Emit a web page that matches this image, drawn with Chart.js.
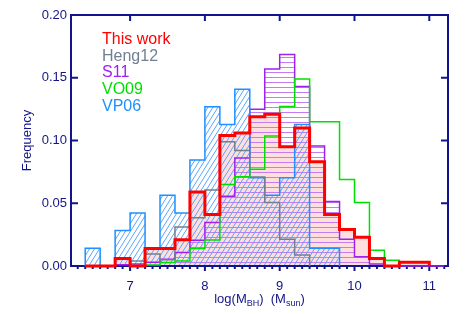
<!DOCTYPE html>
<html>
<head>
<meta charset="utf-8">
<script src="https://cdn.jsdelivr.net/npm/chart.js@4.4.1/dist/chart.umd.min.js"></script>
<style>
  html, body { margin: 0; padding: 0; background: #fff; }
</style>
</head>
<body>
<canvas id="histChart" width="472" height="314"></canvas>
<script>
// =====================
// DATA
// =====================
// bin edges of log(M_BH), 0.2 dex bins
const binEdges = [6.4, 6.6, 6.8, 7.0, 7.2, 7.4, 7.6, 7.8, 8.0, 8.2, 8.4, 8.6, 8.8, 9.0, 9.2, 9.4, 9.6, 9.8, 10.0, 10.2, 10.4, 10.6, 10.8, 11.0, 11.2];

// frequency per bin (null = no bar there)
const thisWork = [0, 0, 0.006, 0, 0.014, 0.014, 0.021, 0.059, 0.041, 0.104, 0.106, 0.119, 0.121, 0.095, 0.110, 0.083, 0.041, 0.029, 0.023, 0.006, 0, 0.003, 0.003, null];
const heng12 = [null, null, null, 0.004, 0.0095, 0.005, 0.031, 0.0385, 0.0606, 0.099, 0.092, 0.071, 0.0505, 0.0214, 0.0088, null, null, null, null, null, null, null, null, null];
const s11 = [null, null, 0.001, 0.0015, 0.003, 0.0053, 0.0107, 0.0205, 0.0347, 0.0555, 0.086, 0.125, 0.157, 0.1685, 0.143, 0.0956, 0.0513, 0.0213, 0.0074, 0.0016, 0, 0, 0, 0];
const vo09 = [null, null, null, null, 0.0008, 0.0027, 0.004, 0.014, 0.0207, 0.065, 0.0712, 0.077, 0.1036, 0.127, 0.149, 0.115, 0.115, 0.069, 0.0505, 0.0125, 0.0045, null, null, null];
const vp06 = [0.0141, 0, 0.0282, 0.0423, 0.0141, 0.0563, 0.0423, 0.0845, 0.1268, 0.1127, 0.1408, 0.0704, 0.0563, 0.0704, 0.1127, 0.0141, 0.0141, null, null, null, null, null, null, null];

const seriesNames = ["This work", "Heng12", "S11", "VO09", "VP06"];

const xTickValues = [7, 8, 9, 10, 11];
const xTickLabels = ["7", "8", "9", "10", "11"];
const yTickValues = [0, 0.05, 0.10, 0.15, 0.20];
const yTickLabels = ["0.00", "0.05", "0.10", "0.15", "0.20"];

// =====================
// STYLE
// =====================
const NAVY = "#14148a";
const FONT = "'Liberation Sans', Arial, Helvetica, sans-serif";
const colors = {
  red: "#ff0000",
  gray: "#708090",
  purple: "#a020f0",
  green: "#00e000",
  blue: "#1e90ff"
};
const legendColors = [colors.red, colors.gray, colors.purple, colors.green, colors.blue];

// turn per-bin values into step points
function histPoints(values) {
  let first = values.findIndex(v => v !== null);
  let last = values.length - 1;
  while (values[last] === null) last--;
  const pts = [{ x: binEdges[first], y: 0 }];
  for (let i = first; i <= last; i++) {
    pts.push({ x: binEdges[i], y: values[i] });
  }
  pts.push({ x: binEdges[last + 1], y: 0 });
  return pts;
}

// hatch patterns
function diagPattern(color) {
  const c = document.createElement("canvas");
  c.width = 5; c.height = 8;
  const g = c.getContext("2d");
  g.strokeStyle = color;
  g.lineWidth = 1;
  for (let k = -1; k <= 1; k++) {
    g.beginPath();
    g.moveTo(k * 5, 8);
    g.lineTo(k * 5 + 5, 0);
    g.stroke();
  }
  return g.createPattern(c, "repeat");
}

function horizPattern(color) {
  const c = document.createElement("canvas");
  c.width = 4; c.height = 5;
  const g = c.getContext("2d");
  g.fillStyle = color;
  g.fillRect(0, 2, 4, 1);
  return g.createPattern(c, "repeat");
}

// =====================
// PLUGINS
// =====================
const frameAndTicks = {
  id: "frameAndTicks",
  beforeDatasetsDraw(chart) {
    const { ctx, chartArea: a, scales } = chart;
    ctx.save();
    ctx.strokeStyle = NAVY;
    ctx.lineWidth = 2;
    ctx.strokeRect(a.left, a.top, a.right - a.left, a.bottom - a.top);

    ctx.beginPath();
    yTickValues.forEach(v => {
      const py = scales.y.getPixelForValue(v);
      ctx.moveTo(a.left, py); ctx.lineTo(a.left + 7, py);
      ctx.moveTo(a.right, py); ctx.lineTo(a.right - 7, py);
    });
    xTickValues.forEach(v => {
      const px = scales.x.getPixelForValue(v);
      ctx.moveTo(px, a.top); ctx.lineTo(px, a.top + 6);
      ctx.moveTo(px, a.bottom); ctx.lineTo(px, a.bottom + 5);
    });
    // minor ticks every 0.1 on the bottom axis
    for (let m = 63; m <= 112; m++) {
      const px = scales.x.getPixelForValue(m / 10);
      ctx.moveTo(px, a.bottom); ctx.lineTo(px, a.bottom + 3);
    }
    ctx.stroke();
    ctx.restore();
  },
  afterDraw(chart) {
    const { ctx, chartArea: a } = chart;
    ctx.save();

    // legend text
    ctx.font = "16px " + FONT;
    ctx.textBaseline = "alphabetic";
    ctx.textAlign = "left";
    seriesNames.forEach((name, i) => {
      ctx.fillStyle = legendColors[i];
      ctx.fillText(name, a.left + 31, a.top + 29 + i * 16.7);
    });

    // y axis title
    ctx.fillStyle = NAVY;
    ctx.font = "13px " + FONT;
    ctx.save();
    ctx.translate(27, (a.top + a.bottom) / 2);
    ctx.rotate(-Math.PI / 2);
    ctx.textAlign = "center";
    ctx.textBaseline = "middle";
    ctx.fillText("Frequency", 0, 0);
    ctx.restore();

    // x axis title with subscripts
    const parts = [
      ["log(M", false], ["BH", true], [")  (M", false], ["sun", true], [")", false]
    ];
    const big = "13px " + FONT, small = "9px " + FONT;
    let total = 0;
    parts.forEach(p => { ctx.font = p[1] ? small : big; total += ctx.measureText(p[0]).width; });
    let x = (a.left + a.right) / 2 - total / 2;
    const base = 303;
    ctx.textAlign = "left";
    ctx.textBaseline = "alphabetic";
    parts.forEach(p => {
      ctx.font = p[1] ? small : big;
      ctx.fillText(p[0], x, p[1] ? base + 3 : base);
      x += ctx.measureText(p[0]).width;
    });
    ctx.restore();
  }
};

// =====================
// CHART
// =====================
function initChart() {
  const ctx = document.getElementById("histChart");

  const pinkFill = "rgb(255, 222, 222)";
  const purpleHatch = horizPattern("rgb(195, 125, 240)");
  const blueHatch = diagPattern("rgb(90, 165, 255)");

  const common = { stepped: true, pointRadius: 0, clip: false, tension: 0 };

  new Chart(ctx, {
    type: "line",
    data: {
      datasets: [
        Object.assign({ label: "This work fill", data: histPoints(thisWork), borderWidth: 0, borderColor: "rgba(0,0,0,0)", backgroundColor: pinkFill, fill: "origin", order: 10 }, common),
        Object.assign({ label: "S11", data: histPoints(s11), borderWidth: 1.5, borderColor: colors.purple, backgroundColor: purpleHatch, fill: "origin", order: 9 }, common),
        Object.assign({ label: "VP06", data: histPoints(vp06), borderWidth: 1.5, borderColor: colors.blue, backgroundColor: blueHatch, fill: "origin", order: 8 }, common),
        Object.assign({ label: "Heng12", data: histPoints(heng12), borderWidth: 1.5, borderColor: colors.gray, fill: false, order: 7 }, common),
        Object.assign({ label: "VO09", data: histPoints(vo09), borderWidth: 1.5, borderColor: colors.green, fill: false, order: 6 }, common),
        Object.assign({ label: "This work", data: histPoints(thisWork), borderWidth: 3, borderColor: colors.red, fill: false, order: 0 }, common)
      ]
    },
    options: {
      responsive: false,
      animation: false,
      devicePixelRatio: 1,
      layout: { padding: { left: 0, right: 24, top: 15, bottom: 0 } },
      plugins: {
        legend: { display: false },
        tooltip: { enabled: false },
        filler: { drawTime: "beforeDatasetsDraw" }
      },
      scales: {
        x: {
          type: "linear",
          min: 6.21,
          max: 11.25,
          afterBuildTicks: s => { s.ticks = xTickValues.map(v => ({ value: v })); },
          afterFit: s => { s.height = 48; },
          grid: { display: false, drawTicks: false },
          border: { display: false },
          ticks: {
            autoSkip: false,
            maxRotation: 0,
            padding: 13,
            color: NAVY,
            font: { family: FONT, size: 13 },
            callback: (v, i) => xTickLabels[i]
          }
        },
        y: {
          min: 0,
          max: 0.2,
          afterBuildTicks: s => { s.ticks = yTickValues.map(v => ({ value: v })); },
          afterFit: s => { s.width = 71; },
          grid: { display: false, drawTicks: false },
          border: { display: false },
          ticks: {
            padding: 4,
            color: NAVY,
            font: { family: FONT, size: 13 },
            callback: (v, i) => yTickLabels[i]
          }
        }
      }
    },
    plugins: [frameAndTicks]
  });
}

document.addEventListener("DOMContentLoaded", initChart);
</script>
</body>
</html>
